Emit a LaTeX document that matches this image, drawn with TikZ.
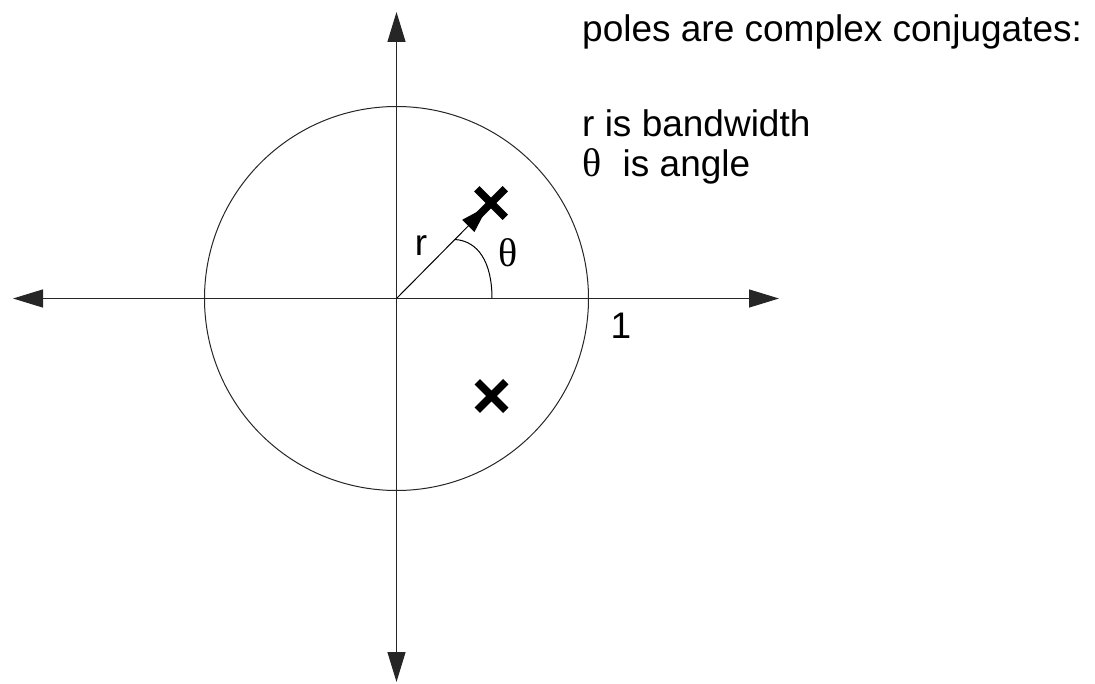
\documentclass[tikz,border=0pt]{standalone}
\usepackage{fontspec}
\setmainfont{Liberation Sans}
\newfontfamily\greekfont{Liberation Serif}
\usetikzlibrary{arrows.meta,shapes.misc}
\begin{document}
\begin{tikzpicture}[x=1pt,y=-1pt,
  axis/.style={line width=1.2pt, draw=black!85, {Triangle[length=30pt,width=18pt]}-{Triangle[length=30pt,width=18pt]}},
  unitcircle/.style={line width=1pt, draw=black!85},
  radius arrow/.style={line width=1pt, -{Triangle[length=28pt,width=17pt]}},
  pole/.style={cross out, draw, line width=7.5pt, minimum size=21pt, inner sep=0pt},
  lbl/.style={font=\fontsize{37}{40}\selectfont, inner sep=0pt},
  txt/.style={lbl, anchor=base west}
]
\useasboundingbox (0,0) rectangle (1095,684);
\coordinate (O) at (396.5,298.5);
\coordinate (L) at (13,298.5);
\coordinate (R) at (779,298.5);
\coordinate (T) at (396.5,12);
\coordinate (B) at (396.5,682);
\coordinate (tip) at (488,206);
\coordinate (a0) at (492,298.5);
\coordinate (a1) at (455,239.5);

\draw[unitcircle] (O) circle[radius=192];
\draw[axis] (L) -- (R);
\draw[axis] (B) -- (T);

\draw[line width=1pt] (a0) .. controls (492,262) and (478,241) .. (a1);
\draw[radius arrow] (O) -- (tip);

\node[pole] (p1) at (491,203) {};
\node[pole] (p2) at (491.5,396) {};

\node[lbl, anchor=base] (rl) at (421,256) {r};
\node[lbl, anchor=base] (tl) at (508.5,267) {\greekfont\fontsize{40}{40}\selectfont θ};
\node[lbl, anchor=base] (one) at (621,339) {1};

\node[txt] (t1) at (582,42) {poles are complex conjugates:};
\node[txt] (t2) at (582,137) {r is bandwidth};
\node[txt] (t3) at (582,177) {{\greekfont\fontsize{40}{40}\selectfont θ}\hspace{0.3em} is angle};
\end{tikzpicture}
\end{document}
